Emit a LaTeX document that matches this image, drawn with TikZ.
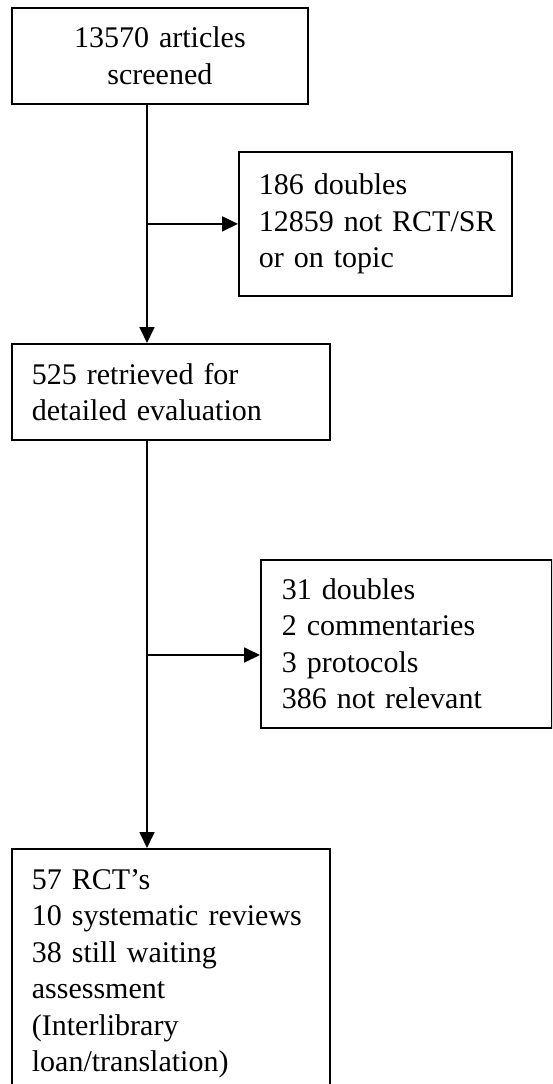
\documentclass[tikz,border=0pt]{standalone}
\usepackage{fontspec}
\setmainfont{Liberation Serif}
\usepackage{tikz}
\usetikzlibrary{arrows.meta}

\tikzset{
	box/.style={draw, line width=1.8pt, anchor=north west, inner ysep=0pt,
		font=\fontsize{30}{36.5}\selectfont},
	arr/.style={line width=1.8pt, -{Triangle[length=16pt,width=15pt]}},
}

\begin{document}
\begin{tikzpicture}[x=1pt, y=-1pt]
	\useasboundingbox (0, 0) rectangle (552, 1084);
	\clip (0, 0) rectangle (552, 1084);
	% Boxes:
	\node[box, inner xsep=20pt, text width=256pt, minimum height=96pt, align=center](screened) at (11, 7){13570 articles\\screened};
	\node[box, inner xsep=20pt, text width=233pt, minimum height=144pt, align=left](excl1) at (238, 151){186 doubles\\\mbox{12859 not RCT/SR}\\or on topic};
	\node[box, inner xsep=20pt, text width=278pt, minimum height=96pt, align=left](retrieved) at (11, 343){525 retrieved for\\detailed evaluation};
	\node[box, inner xsep=21pt, text width=249pt, minimum height=168pt, align=left](excl2) at (260, 559){31 doubles\\2 commentaries\\3 protocols\\386 not relevant};
	\node[box, inner xsep=20pt, text width=278pt, minimum height=250pt, align=left](included) at (11, 848){57 RCT's\\\mbox{10 systematic reviews}\\38 still waiting\\assessment\\(Interlibrary\\loan/translation)};
	% Arrows:
	\coordinate (spine) at (147, 0);
	\coordinate (branch) at (147, 655);
	\draw[arr] (screened.south -| spine) -- (retrieved.north -| spine);
	\draw[arr] (spine |- excl1.west) -- (excl1.west);
	\draw[arr] (retrieved.south -| spine) -- (included.north -| spine);
	\draw[arr] (branch) -- (branch -| excl2.west);
\end{tikzpicture}
\end{document}
